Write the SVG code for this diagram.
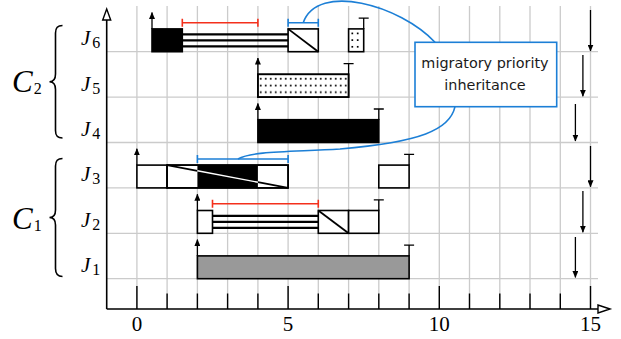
<svg xmlns="http://www.w3.org/2000/svg" width="621" height="339" viewBox="0 0 621 339">
  <defs>
    <style>
      .grid { stroke: #cbcbcb; stroke-width: 1.3; fill: none; }
      .box { fill: #fff; stroke: #000; stroke-width: 1.6; }
      .blk { fill: #000; stroke: #000; stroke-width: 1.6; }
      .gry { fill: #999; stroke: #000; stroke-width: 1.6; }
      .ln { stroke: #000; stroke-width: 1.6; fill: none; }
      .diag { stroke: #000; stroke-width: 1.8; fill: none; }
      .tri { stroke: #000; stroke-width: 2.2; fill: none; }
      .arr { stroke: #000; stroke-width: 1.3; fill: none; marker-end: url(#ah); }
      .dl { stroke: #000; stroke-width: 1.3; fill: none; }
      .red { stroke: #f4301c; stroke-width: 1.6; fill: none; }
      .blue { stroke: #1c7fd6; stroke-width: 1.6; fill: none; }
      .axis { stroke: #000; stroke-width: 1.6; fill: none; }
      .tick { stroke: #000; stroke-width: 1.4; fill: none; }
      .math { font-family: "Liberation Serif", "DejaVu Serif", serif; font-style: italic; fill: #000; }
      .num { font-family: "Liberation Serif", "DejaVu Serif", serif; font-size: 21px; fill: #000; text-anchor: middle; }
      .note { font-family: "DejaVu Sans", "Liberation Sans", sans-serif; font-size: 14.4px; fill: #1a1a1a; text-anchor: middle; }
    </style>
    <marker id="ah" viewBox="0 0 7 6" refX="6.5" refY="3" markerWidth="7" markerHeight="6" markerUnits="userSpaceOnUse" orient="auto">
      <path d="M0,0 L7,3 L0,6 z" fill="#000"/>
    </marker>
    <pattern id="dots5" x="259.85" y="74.3" width="5" height="6.7" patternUnits="userSpaceOnUse">
      <rect x="0" y="3.65" width="1.7" height="1.7" fill="#000"/>
    </pattern>
  </defs>

  <!-- background grid -->
  <g id="grid" class="grid">
    <path d="M136.9 6V309 M167.1 6V309 M197.4 6V309 M227.6 6V309 M257.9 6V309 M288.1 6V309 M318.3 6V309 M348.6 6V309 M378.8 6V309 M409.1 6V309 M439.3 6V309 M469.5 6V309 M499.8 6V309 M530 6V309 M560.3 6V309 M590.5 6V309"/>
    <path d="M106.7 51.7H598 M106.7 97.1H598 M106.7 142.5H598 M106.7 187.9H598 M106.7 233.3H598 M106.7 278.7H598"/>
  </g>

  <!-- J6 -->
  <g id="J6">
    <path class="tri" d="M182.3 34.3H288.1 M182.3 40.3H288.1 M182.3 46.3H288.1"/>
    <rect class="blk" x="152" y="28.9" width="30.3" height="22.8"/>
    <rect class="box" x="288.1" y="28.9" width="30.2" height="22.8"/>
    <path class="diag" d="M288.1 28.9L318.3 51.7"/>
    <rect class="box" x="348.6" y="28.9" width="15.1" height="22.8"/>
    <g fill="#000">
      <rect x="351.45" y="32.55" width="1.7" height="1.7"/>
      <rect x="356.85" y="32.55" width="1.7" height="1.7"/>
      <rect x="351.45" y="39.25" width="1.7" height="1.7"/>
      <rect x="356.85" y="39.25" width="1.7" height="1.7"/>
      <rect x="351.45" y="45.95" width="1.7" height="1.7"/>
      <rect x="356.85" y="45.95" width="1.7" height="1.7"/>
    </g>
    <path class="arr" d="M152 28.9V12.5"/>
    <path class="dl" d="M363.7 28.9V18.2 M358.7 18.2H368.7"/>
    <path class="red" d="M182.3 22.7H257.9 M182.3 18.7V26.7 M257.9 18.7V26.7"/>
    <path class="blue" d="M288.1 22.7H318.3 M288.1 18.7V26.7 M318.3 18.7V26.7"/>
  </g>

  <!-- J5 -->
  <g id="J5">
    <rect class="box" x="257.9" y="74.3" width="90.7" height="22.8"/>
    <rect x="257.9" y="74.3" width="90.7" height="22.8" fill="url(#dots5)"/>
    <rect x="257.9" y="74.3" width="90.7" height="22.8" fill="none" stroke="#000" stroke-width="1.6"/>
    <path class="arr" d="M257.9 74.3V58"/>
    <path class="dl" d="M348.6 74.3V63.6 M343.6 63.6H353.6"/>
  </g>

  <!-- J4 -->
  <g id="J4">
    <rect class="blk" x="257.9" y="119.7" width="120.9" height="22.8"/>
    <path class="arr" d="M257.9 119.7V103.4"/>
    <path class="dl" d="M378.8 119.7V109 M373.8 109H383.8"/>
  </g>

  <!-- J3 -->
  <g id="J3">
    <rect class="box" x="136.9" y="165.1" width="30.2" height="22.8"/>
    <rect class="box" x="167.1" y="165.1" width="121" height="22.8"/>
    <rect x="197.4" y="165.1" width="60.5" height="22.8" fill="#000"/>
    <path class="diag" d="M167.1 165.1L197.4 170.8 M257.9 182.2L288.1 187.9"/>
    <path d="M197.4 170.8L257.9 182.2" stroke="#fff" stroke-width="1.4" fill="none"/>
    <rect x="167.1" y="165.1" width="121" height="22.8" fill="none" stroke="#000" stroke-width="1.6"/>
    <rect class="box" x="378.8" y="165.1" width="30.3" height="22.8"/>
    <path class="arr" d="M136.9 165.1V148.8"/>
    <path class="dl" d="M409.1 165.1V154.4 M404.1 154.4H414.1"/>
    <path class="blue" d="M197.4 159H288.1 M197.4 155V163 M288.1 155V163"/>
  </g>

  <!-- J2 -->
  <g id="J2">
    <path class="tri" d="M212.5 215.9H318.3 M212.5 221.9H318.3 M212.5 227.9H318.3"/>
    <rect class="box" x="197.4" y="210.5" width="15.1" height="22.8"/>
    <rect class="box" x="318.3" y="210.5" width="30.3" height="22.8"/>
    <path class="diag" d="M318.3 210.5L348.6 233.3"/>
    <rect class="box" x="348.6" y="210.5" width="30.2" height="22.8"/>
    <path class="arr" d="M197.4 210.5V194.2"/>
    <path class="dl" d="M378.8 210.5V199.8 M373.8 199.8H383.8"/>
    <path class="red" d="M212.5 203.8H318.3 M212.5 199.8V207.8 M318.3 199.8V207.8"/>
  </g>

  <!-- J1 -->
  <g id="J1">
    <rect class="gry" x="197.4" y="255.9" width="211.7" height="22.8"/>
    <path class="arr" d="M197.4 255.9V239.6"/>
    <path class="dl" d="M409.1 255.9V245.2 M404.1 245.2H414.1"/>
  </g>

  <!-- period arrows at the right -->
  <g id="periods">
    <path class="arr" d="M590.5 10V51"/>
    <path class="arr" d="M582.9 55V96.3"/>
    <path class="arr" d="M575.4 104V141"/>
    <path class="arr" d="M590.5 146V186.8"/>
    <path class="arr" d="M582.9 191V232.2"/>
    <path class="arr" d="M575.4 237V277.4"/>
  </g>

  <!-- connectors of the callout -->
  <g id="connectors" class="blue">
    <path d="M303.2 22.7C318 -18 400 5 435 42.3"/>
    <path d="M455 106.7C450 130 420 142 340 149C290 152 252 151 238 159"/>
  </g>

  <!-- callout -->
  <g id="callout">
    <rect x="415" y="42.3" width="141.7" height="64.4" fill="#fff" stroke="#1c7fd6" stroke-width="1.6"/>
    <text class="note" x="485" y="67.5">migratory priority</text>
    <text class="note" x="485" y="90">inheritance</text>
  </g>

  <!-- axes -->
  <g id="axes">
    <path class="axis" d="M106.7 309V20 M106.7 309H598"/>
    <polygon points="106.7,9 102.7,20 110.7,20" fill="#fff" stroke="#000" stroke-width="1.4"/>
    <polygon points="610,309 598,305 598,313" fill="#fff" stroke="#000" stroke-width="1.4"/>
    <path class="tick" d="M136.9 309V286 M167.1 309V293.5 M197.4 309V293.5 M227.6 309V293.5 M257.9 309V293.5 M288.1 309V286 M318.3 309V293.5 M348.6 309V293.5 M378.8 309V293.5 M409.1 309V293.5 M439.3 309V286 M469.5 309V293.5 M499.8 309V293.5 M530 309V293.5 M560.3 309V293.5 M590.5 309V286"/>
    <text class="num" x="136.9" y="330.5">0</text>
    <text class="num" x="288.1" y="330.5">5</text>
    <text class="num" x="439.3" y="330.5">10</text>
    <text class="num" x="590.5" y="330.5">15</text>
  </g>

  <!-- row labels -->
  <g id="labels">
    <text class="math" font-size="21" x="81" y="45.2">J<tspan font-size="16" font-style="normal" dx="2" dy="3">6</tspan></text>
    <text class="math" font-size="21" x="81" y="90.6">J<tspan font-size="16" font-style="normal" dx="2" dy="3">5</tspan></text>
    <text class="math" font-size="21" x="81" y="136">J<tspan font-size="16" font-style="normal" dx="2" dy="3">4</tspan></text>
    <text class="math" font-size="21" x="81" y="181.4">J<tspan font-size="16" font-style="normal" dx="2" dy="3">3</tspan></text>
    <text class="math" font-size="21" x="81" y="226.8">J<tspan font-size="16" font-style="normal" dx="2" dy="3">2</tspan></text>
    <text class="math" font-size="21" x="81" y="272.2">J<tspan font-size="16" font-style="normal" dx="2" dy="3">1</tspan></text>
  </g>

  <!-- groups C2 and C1 with braces -->
  <g id="C2">
    <text class="math" font-size="31" x="12" y="91.5">C<tspan font-size="16" font-style="normal" dx="1" dy="2">2</tspan></text>
    <path class="ln" d="M62.5 25.5C57 25.5 55.5 28 55.5 33V74C55.5 79 53 81.7 49.5 81.7C53 81.7 55.5 84.4 55.5 89.4V130.5C55.5 135.5 57 138 62.5 138"/>
  </g>
  <g id="C1">
    <text class="math" font-size="31" x="12" y="228.5">C<tspan font-size="16" font-style="normal" dx="1" dy="2">1</tspan></text>
    <path class="ln" d="M62.5 158.5C57 158.5 55.5 161 55.5 166V210C55.5 215 53 217.5 49.5 217.5C53 217.5 55.5 220 55.5 225V268.5C55.5 273.5 57 276.5 62.5 276.5"/>
  </g>
</svg>
